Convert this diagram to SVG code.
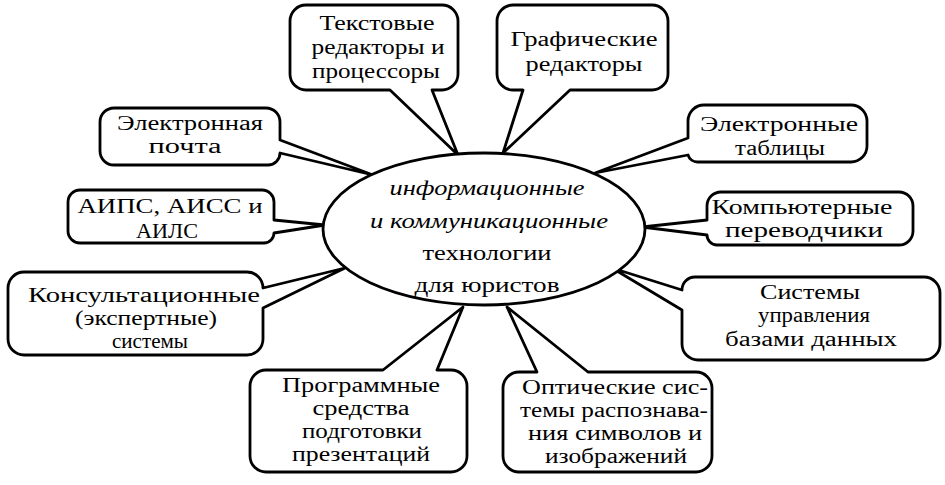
<svg xmlns="http://www.w3.org/2000/svg" width="945" height="485" viewBox="0 0 945 485">
<style>
.b{fill:#fff;stroke:#000;stroke-width:2.8;stroke-linejoin:round}
.t{font-family:"Liberation Serif","Times New Roman",serif;font-size:20px;fill:#000;text-anchor:middle}
.i{font-style:italic}
</style>
<rect width="945" height="485" fill="#fff"/>
<g id="n-text-editors">
<path class="b" d="M306,5 H442 A16,16 0 0 1 458,21 V74 A16,16 0 0 1 442,90 H432 L458,155 L390,90 H306 A16,16 0 0 1 290,74 V21 A16,16 0 0 1 306,5 Z"/>
<text class="t" x="377" y="30" textLength="115" lengthAdjust="spacingAndGlyphs">Текстовые</text>
<text class="t" x="378" y="54" textLength="133" lengthAdjust="spacingAndGlyphs">редакторы и</text>
<text class="t" x="376" y="78" textLength="128" lengthAdjust="spacingAndGlyphs">процессоры</text>
</g>
<g id="n-graphic-editors">
<path class="b" d="M513,5 H652 A16,16 0 0 1 668,21 V74 A16,16 0 0 1 652,90 H570 L503,153 L523,90 H513 A16,16 0 0 1 497,74 V21 A16,16 0 0 1 513,5 Z"/>
<text class="t" x="584" y="46" textLength="147" lengthAdjust="spacingAndGlyphs">Графические</text>
<text class="t" x="584" y="71" textLength="117" lengthAdjust="spacingAndGlyphs">редакторы</text>
</g>
<g id="n-email">
<path class="b" d="M114,108 H266 A14,14 0 0 1 280,122 V140 L373,175 L280,153 A12,12 0 0 1 268,165 H114 A14,14 0 0 1 100,151 V122 A14,14 0 0 1 114,108 Z"/>
<text class="t" x="190" y="130" textLength="146" lengthAdjust="spacingAndGlyphs">Электронная</text>
<text class="t" x="185" y="153" textLength="73" lengthAdjust="spacingAndGlyphs">почта</text>
</g>
<g id="n-aips">
<path class="b" d="M80,190 H262 A12,12 0 0 1 274,202 V220 L325,225 L274,233 A10,10 0 0 1 264,243 H80 A12,12 0 0 1 68,231 V202 A12,12 0 0 1 80,190 Z"/>
<text class="t" x="170" y="213" textLength="185" lengthAdjust="spacingAndGlyphs">АИПС, АИСС и</text>
<text class="t" x="167" y="238" textLength="62" lengthAdjust="spacingAndGlyphs">АИЛС</text>
</g>
<g id="n-consult">
<path class="b" d="M24,272 H247 A16,16 0 0 1 263,288 L345,268 L263,308 V339 A16,16 0 0 1 247,355 H24 A16,16 0 0 1 8,339 V288 A16,16 0 0 1 24,272 Z"/>
<text class="t" x="144" y="302" textLength="232" lengthAdjust="spacingAndGlyphs">Консультационные</text>
<text class="t" x="146" y="325" textLength="142" lengthAdjust="spacingAndGlyphs">(экспертные)</text>
<text class="t" x="150" y="348" textLength="76" lengthAdjust="spacingAndGlyphs">системы</text>
</g>
<g id="n-presentations">
<path class="b" d="M266,370 H383 L463,307 L437,370 H451 A16,16 0 0 1 467,386 V456 A16,16 0 0 1 451,472 H266 A16,16 0 0 1 250,456 V386 A16,16 0 0 1 266,370 Z"/>
<text class="t" x="361" y="392" textLength="158" lengthAdjust="spacingAndGlyphs">Программные</text>
<text class="t" x="361" y="415" textLength="97" lengthAdjust="spacingAndGlyphs">средства</text>
<text class="t" x="362" y="438" textLength="120" lengthAdjust="spacingAndGlyphs">подготовки</text>
<text class="t" x="361" y="461" textLength="138" lengthAdjust="spacingAndGlyphs">презентаций</text>
</g>
<g id="n-ocr">
<path class="b" d="M519,372 H537 L507,307 L588,372 H696 A16,16 0 0 1 712,388 V456 A16,16 0 0 1 696,472 H519 A16,16 0 0 1 503,456 V388 A16,16 0 0 1 519,372 Z"/>
<text class="t" x="615" y="394" textLength="186" lengthAdjust="spacingAndGlyphs">Оптические сис-</text>
<text class="t" x="614" y="417" textLength="188" lengthAdjust="spacingAndGlyphs">темы распознава-</text>
<text class="t" x="615" y="440" textLength="174" lengthAdjust="spacingAndGlyphs">ния символов и</text>
<text class="t" x="616" y="463" textLength="142" lengthAdjust="spacingAndGlyphs">изображений</text>
</g>
<g id="n-spreadsheets">
<path class="b" d="M704,105 H851 A16,16 0 0 1 867,121 V146 A16,16 0 0 1 851,162 H698 A10,10 0 0 1 688,155 L595,173 L688,138 V121 A16,16 0 0 1 704,105 Z"/>
<text class="t" x="779" y="131" textLength="158" lengthAdjust="spacingAndGlyphs">Электронные</text>
<text class="t" x="780" y="155" textLength="90" lengthAdjust="spacingAndGlyphs">таблицы</text>
</g>
<g id="n-translators">
<path class="b" d="M721,192 H899 A14,14 0 0 1 913,206 V231 A14,14 0 0 1 899,245 H717 A10,10 0 0 1 707,235 L642,227 L707,220 V206 A14,14 0 0 1 721,192 Z"/>
<text class="t" x="802" y="214" textLength="181" lengthAdjust="spacingAndGlyphs">Компьютерные</text>
<text class="t" x="804" y="237" textLength="158" lengthAdjust="spacingAndGlyphs">переводчики</text>
</g>
<g id="n-dbms">
<path class="b" d="M695,277 H924 A16,16 0 0 1 940,293 V344 A16,16 0 0 1 924,360 H698 A16,16 0 0 1 682,344 V310 L612,268 L682,290 A13,13 0 0 1 695,277 Z"/>
<text class="t" x="810" y="299" textLength="100" lengthAdjust="spacingAndGlyphs">Системы</text>
<text class="t" x="814" y="322" textLength="112" lengthAdjust="spacingAndGlyphs">управления</text>
<text class="t" x="811" y="346" textLength="172" lengthAdjust="spacingAndGlyphs">базами данных</text>
</g>
<g id="n-center">
<ellipse class="b" cx="484" cy="229" rx="161" ry="76"/>
<text class="t i" x="487" y="195" textLength="195" lengthAdjust="spacingAndGlyphs">информационные</text>
<text class="t i" x="489" y="228" textLength="238" lengthAdjust="spacingAndGlyphs">и коммуникационные</text>
<text class="t" x="487" y="260" textLength="129" lengthAdjust="spacingAndGlyphs">технологии</text>
<text class="t" x="487" y="292" textLength="145" lengthAdjust="spacingAndGlyphs">для юристов</text>
</g>
</svg>
